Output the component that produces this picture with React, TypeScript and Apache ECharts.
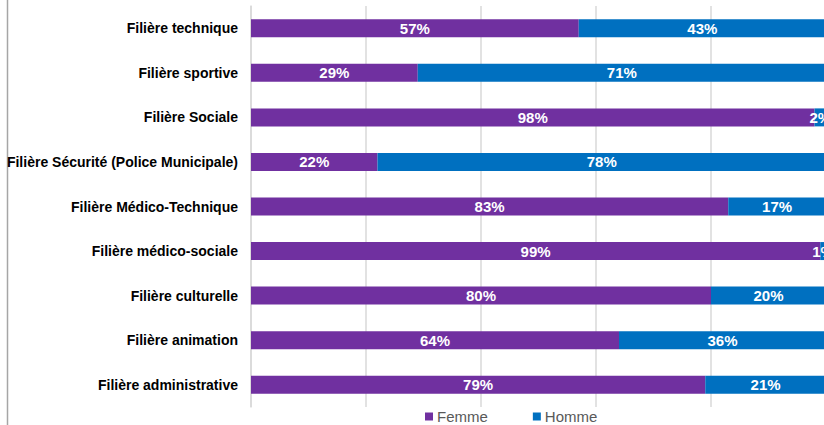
import React, { useEffect, useRef } from "react";
import * as echarts from "echarts";

const categories = [
  "Filière administrative",
  "Filière animation",
  "Filière culturelle",
  "Filière médico-sociale",
  "Filière Médico-Technique",
  "Filière Sécurité (Police Municipale)",
  "Filière Sociale",
  "Filière sportive",
  "Filière technique",
];
const femme = [79, 64, 80, 99, 83, 22, 98, 29, 57];
const homme = [21, 36, 20, 1, 17, 78, 2, 71, 43];
const seriesNames = ["Femme", "Homme"];
const xTicks = { min: 0, max: 100, interval: 20 };

const FONT = "'Liberation Sans', Arial, sans-serif";

export default function App() {
  const ref = useRef<HTMLDivElement>(null);
  useEffect(() => {
    if (!ref.current) return;
    const chart = echarts.init(ref.current, undefined, { renderer: "svg" });
    const label = {
      show: true,
      position: "inside",
      color: "#ffffff",
      fontFamily: FONT,
      fontWeight: "bold",
      fontSize: 15,
      formatter: (p: any) => p.value + "%",
    };
    chart.setOption({
      animation: false,
      backgroundColor: "#ffffff",
      grid: {
        left: 251,
        top: 6,
        width: 575,
        height: 401,
        containLabel: false,
        outerBoundsMode: "none",
      },
      legend: {
        data: seriesNames,
        bottom: 1,
        left: 425,
        padding: 0,
        itemWidth: 8,
        itemHeight: 8,
        itemGap: 45,
        icon: "rect",
        textStyle: {
          color: "#595959",
          fontSize: 15,
          fontFamily: FONT,
          padding: [0, 0, 0, -1],
        },
      },
      xAxis: {
        type: "value",
        min: xTicks.min,
        max: xTicks.max,
        interval: xTicks.interval,
        axisLabel: { show: false },
        axisTick: { show: false },
        axisLine: { show: false },
        splitLine: { show: true, lineStyle: { color: "#d9d9d9", width: 1.5 } },
      },
      yAxis: {
        type: "category",
        data: categories,
        axisTick: { show: false },
        axisLine: { show: true, lineStyle: { color: "#d9d9d9", width: 1.5 } },
        axisLabel: {
          color: "#000000",
          fontFamily: FONT,
          fontWeight: "bold",
          fontSize: 14,
          margin: 13,
        },
      },
      graphic: [
        {
          type: "line",
          shape: { x1: 7.5, y1: 0, x2: 7.5, y2: 425 },
          style: { stroke: "#a6a6a6", lineWidth: 1.5 },
          silent: true,
        },
      ],
      series: [
        {
          name: seriesNames[0],
          type: "bar",
          stack: "total",
          data: femme,
          barWidth: 18,
          itemStyle: { color: "#7030A0" },
          label,
        },
        {
          name: seriesNames[1],
          type: "bar",
          stack: "total",
          data: homme,
          barWidth: 18,
          itemStyle: { color: "#0070C0" },
          label,
        },
      ],
    });
    return () => chart.dispose();
  }, []);
  return (
    <div
      style={{
        position: "absolute",
        left: 0,
        top: 0,
        width: 824,
        height: 425,
        overflow: "hidden",
        background: "#fff",
      }}
    >
      <div ref={ref} style={{ width: 840, height: 425 }} />
    </div>
  );
}
